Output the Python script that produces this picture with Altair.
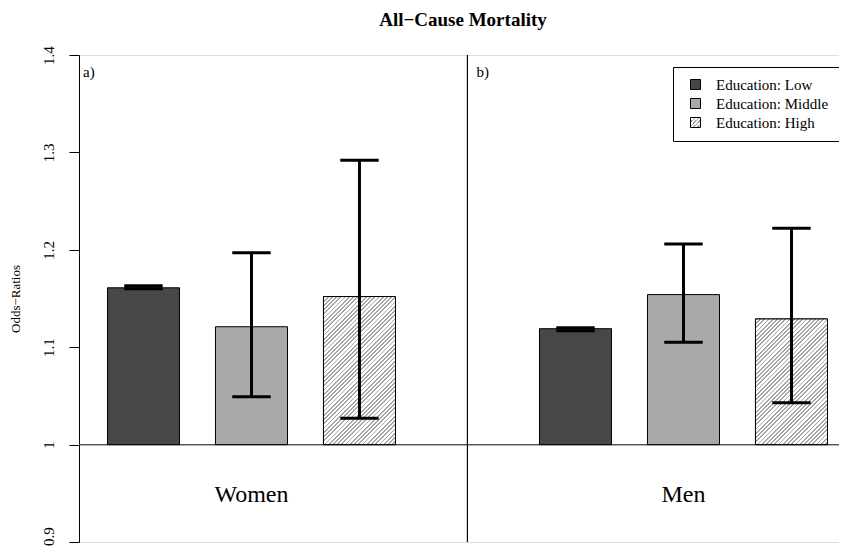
import altair as alt
import pandas as pd

# ---- data ----
sexes = ["Women", "Women", "Women", "Men", "Men", "Men"]
levels = ["Low", "Middle", "High", "Low", "Middle", "High"]
odds = [1.161, 1.121, 1.152, 1.119, 1.154, 1.129]
lower = [1.160, 1.049, 1.027, 1.117, 1.105, 1.043]
upper = [1.163, 1.197, 1.292, 1.120, 1.206, 1.222]
level_order = ["Low", "Middle", "High"]
group_labels = ["Women", "Men"]
panel_tags = ["a)", "b)"]
y_ticks = [0.9, 1.0, 1.1, 1.2, 1.3, 1.4]

FONT = "Liberation Serif"
W, H = 760, 487
Y_MIN, Y_MAX = 0.9, 1.4
PX_PER_SLOT = 108.0
X_MIN = -0.597
X_MAX = X_MIN + W / PX_PER_SLOT
HALF_BAR = 1 / 3
HALF_CAP = 0.178
GROUP_OFFSET = {"Women": 0, "Men": 4}

df = pd.DataFrame({"sex": sexes, "level": levels, "odds": odds,
                   "lower": lower, "upper": upper})
df["slot"] = [GROUP_OFFSET[s] + level_order.index(l) for s, l in zip(sexes, levels)]
df["x0"] = df["slot"] - HALF_BAR
df["x1"] = df["slot"] + HALF_BAR
df["c0"] = df["slot"] - HALF_CAP
df["c1"] = df["slot"] + HALF_CAP
df["edu"] = "Education: " + df["level"]

groups = pd.DataFrame({"label": group_labels,
                       "slot": [GROUP_OFFSET[g] + 1 for g in group_labels]})
tags = pd.DataFrame({"tag": panel_tags, "pos": [X_MIN, 3.0]})

HATCH = "#a6a6a6"


def stripe_stops(n, duty=0.42):
    stops = []
    for k in range(n):
        a, b, c = k / n, (k + duty) / n, (k + 1) / n
        stops += [{"offset": round(a, 5), "color": HATCH},
                  {"offset": round(b, 5), "color": HATCH},
                  {"offset": round(b, 5), "color": "#ffffff"},
                  {"offset": round(c, 5), "color": "#ffffff"}]
    return stops


def stops_expr(stops):
    return "[" + ",".join("{offset:%s,color:'%s'}" % (s["offset"], s["color"]) for s in stops) + "]"


legend_grad = ("{gradient:'linear',x1:0,y1:0,x2:1,y2:1,stops:%s}" % stops_expr(stripe_stops(5)))

xscale = alt.Scale(domain=[X_MIN, X_MAX], nice=False, zero=False)
yscale = alt.Scale(domain=[Y_MIN, Y_MAX], nice=False, zero=False)

yaxis = alt.Axis(values=y_ticks, format=".2~g", grid=False,
                 labelAngle=270, labelAlign="center", labelBaseline="bottom",
                 labelOffset={"condition": {"test": "datum.value < 0.95", "value": -6}, "value": 0},
                 labelPadding=13, labelFont=FONT, labelFontSize=15, labelColor="black",
                 tickSize=10, tickColor="black", domainColor="black",
                 title="Odds\u2212Ratios", titleFont=FONT, titleFontSize=13,
                 titleFontWeight="normal", titleAngle=270, titleX=-64, titleY=H / 2,
                 titleAlign="center", titleBaseline="middle", titleColor="black")

base = alt.Chart(df)

baseline = alt.Chart(df).mark_rule(color="#555555", strokeWidth=1).encode(
    y=alt.datum(1.0, scale=yscale))

bars = base.mark_bar(stroke="black", strokeWidth=1).encode(
    x=alt.X("x0:Q", scale=xscale, axis=None),
    x2="x1:Q",
    y=alt.Y("odds:Q", scale=yscale, axis=yaxis),
    y2=alt.datum(1.0),
    fill=alt.Fill("edu:N",
                  scale=alt.Scale(domain=["Education: Low", "Education: Middle", "Education: High"],
                                  range=["#474747", "#a9a9a9", alt.ExprRef(expr=legend_grad)]),
                  legend=alt.Legend(title=None, orient="none", legendX=594, legendY=12,
                                    strokeColor="black", fillColor="white", padding=10,
                                    cornerRadius=0, symbolType="square", symbolSize=100,
                                    symbolOffset=5,
                                    symbolStrokeColor="black", symbolStrokeWidth=1,
                                    labelFont=FONT, labelFontSize=15, labelColor="black",
                                    rowPadding=3, labelOffset=13)),
)

hatch_layers = []
for _, r in df[df["level"] == "High"].iterrows():
    h = (r["odds"] - 1.0) / (Y_MAX - Y_MIN) * H
    w = 2 * HALF_BAR * PX_PER_SLOT
    n = int(round((w * w + h * h) / (w * 2 ** 0.5) / 3.0))
    grad = {"gradient": "linear", "x1": 0, "y1": 0, "x2": 1, "y2": h / w,
            "stops": stripe_stops(n)}
    hatch_layers.append(
        base.transform_filter(alt.datum.slot == int(r["slot"])).mark_bar(
            fill=grad, stroke="black", strokeWidth=1).encode(
            x=alt.X("x0:Q", scale=xscale), x2="x1:Q",
            y=alt.Y("odds:Q", scale=yscale), y2=alt.datum(1.0)))

err = base.mark_rule(color="black", strokeWidth=3).encode(
    x=alt.X("slot:Q", scale=xscale), y="lower:Q", y2="upper:Q")
cap_lo = base.mark_rule(color="black", strokeWidth=3).encode(
    x=alt.X("c0:Q", scale=xscale), x2="c1:Q", y="lower:Q")
cap_hi = base.mark_rule(color="black", strokeWidth=3).encode(
    x=alt.X("c0:Q", scale=xscale), x2="c1:Q", y="upper:Q")

divider = alt.Chart(df).mark_rule(color="black", strokeWidth=1).encode(
    x=alt.datum(3.0))

group_text = alt.Chart(groups).mark_text(font=FONT, fontSize=24, color="black",
                                         baseline="middle").encode(
    x=alt.X("slot:Q", scale=xscale), y=alt.datum(0.9487), text="label:N")

tag_a = alt.Chart(tags).transform_filter(alt.datum.tag == panel_tags[0]).mark_text(
    font=FONT, fontSize=15, color="black", align="left", baseline="middle",
    dx=4, dy=17).encode(x=alt.X("pos:Q", scale=xscale), y=alt.datum(1.4), text="tag:N")
tag_b = alt.Chart(tags).transform_filter(alt.datum.tag == panel_tags[1]).mark_text(
    font=FONT, fontSize=15, color="black", align="left", baseline="middle",
    dx=9, dy=17).encode(x=alt.X("pos:Q", scale=xscale), y=alt.datum(1.4), text="tag:N")

chart = alt.layer(baseline, bars, *hatch_layers, err, cap_lo, cap_hi, divider,
                  group_text, tag_a, tag_b).properties(
    width=W, height=H,
    title=alt.Title("All\u2212Cause Mortality", font=FONT, fontSize=19, fontWeight="bold",
                    color="black", anchor="middle", dx=4, offset=16),
    autosize=alt.AutoSizeParams(type="none"),
    padding={"left": 71, "top": 47, "right": 0, "bottom": 4},
).configure_view(stroke=None).configure(background="white")

chart.save("out.html", embed_options={"renderer": "svg", "actions": False})
